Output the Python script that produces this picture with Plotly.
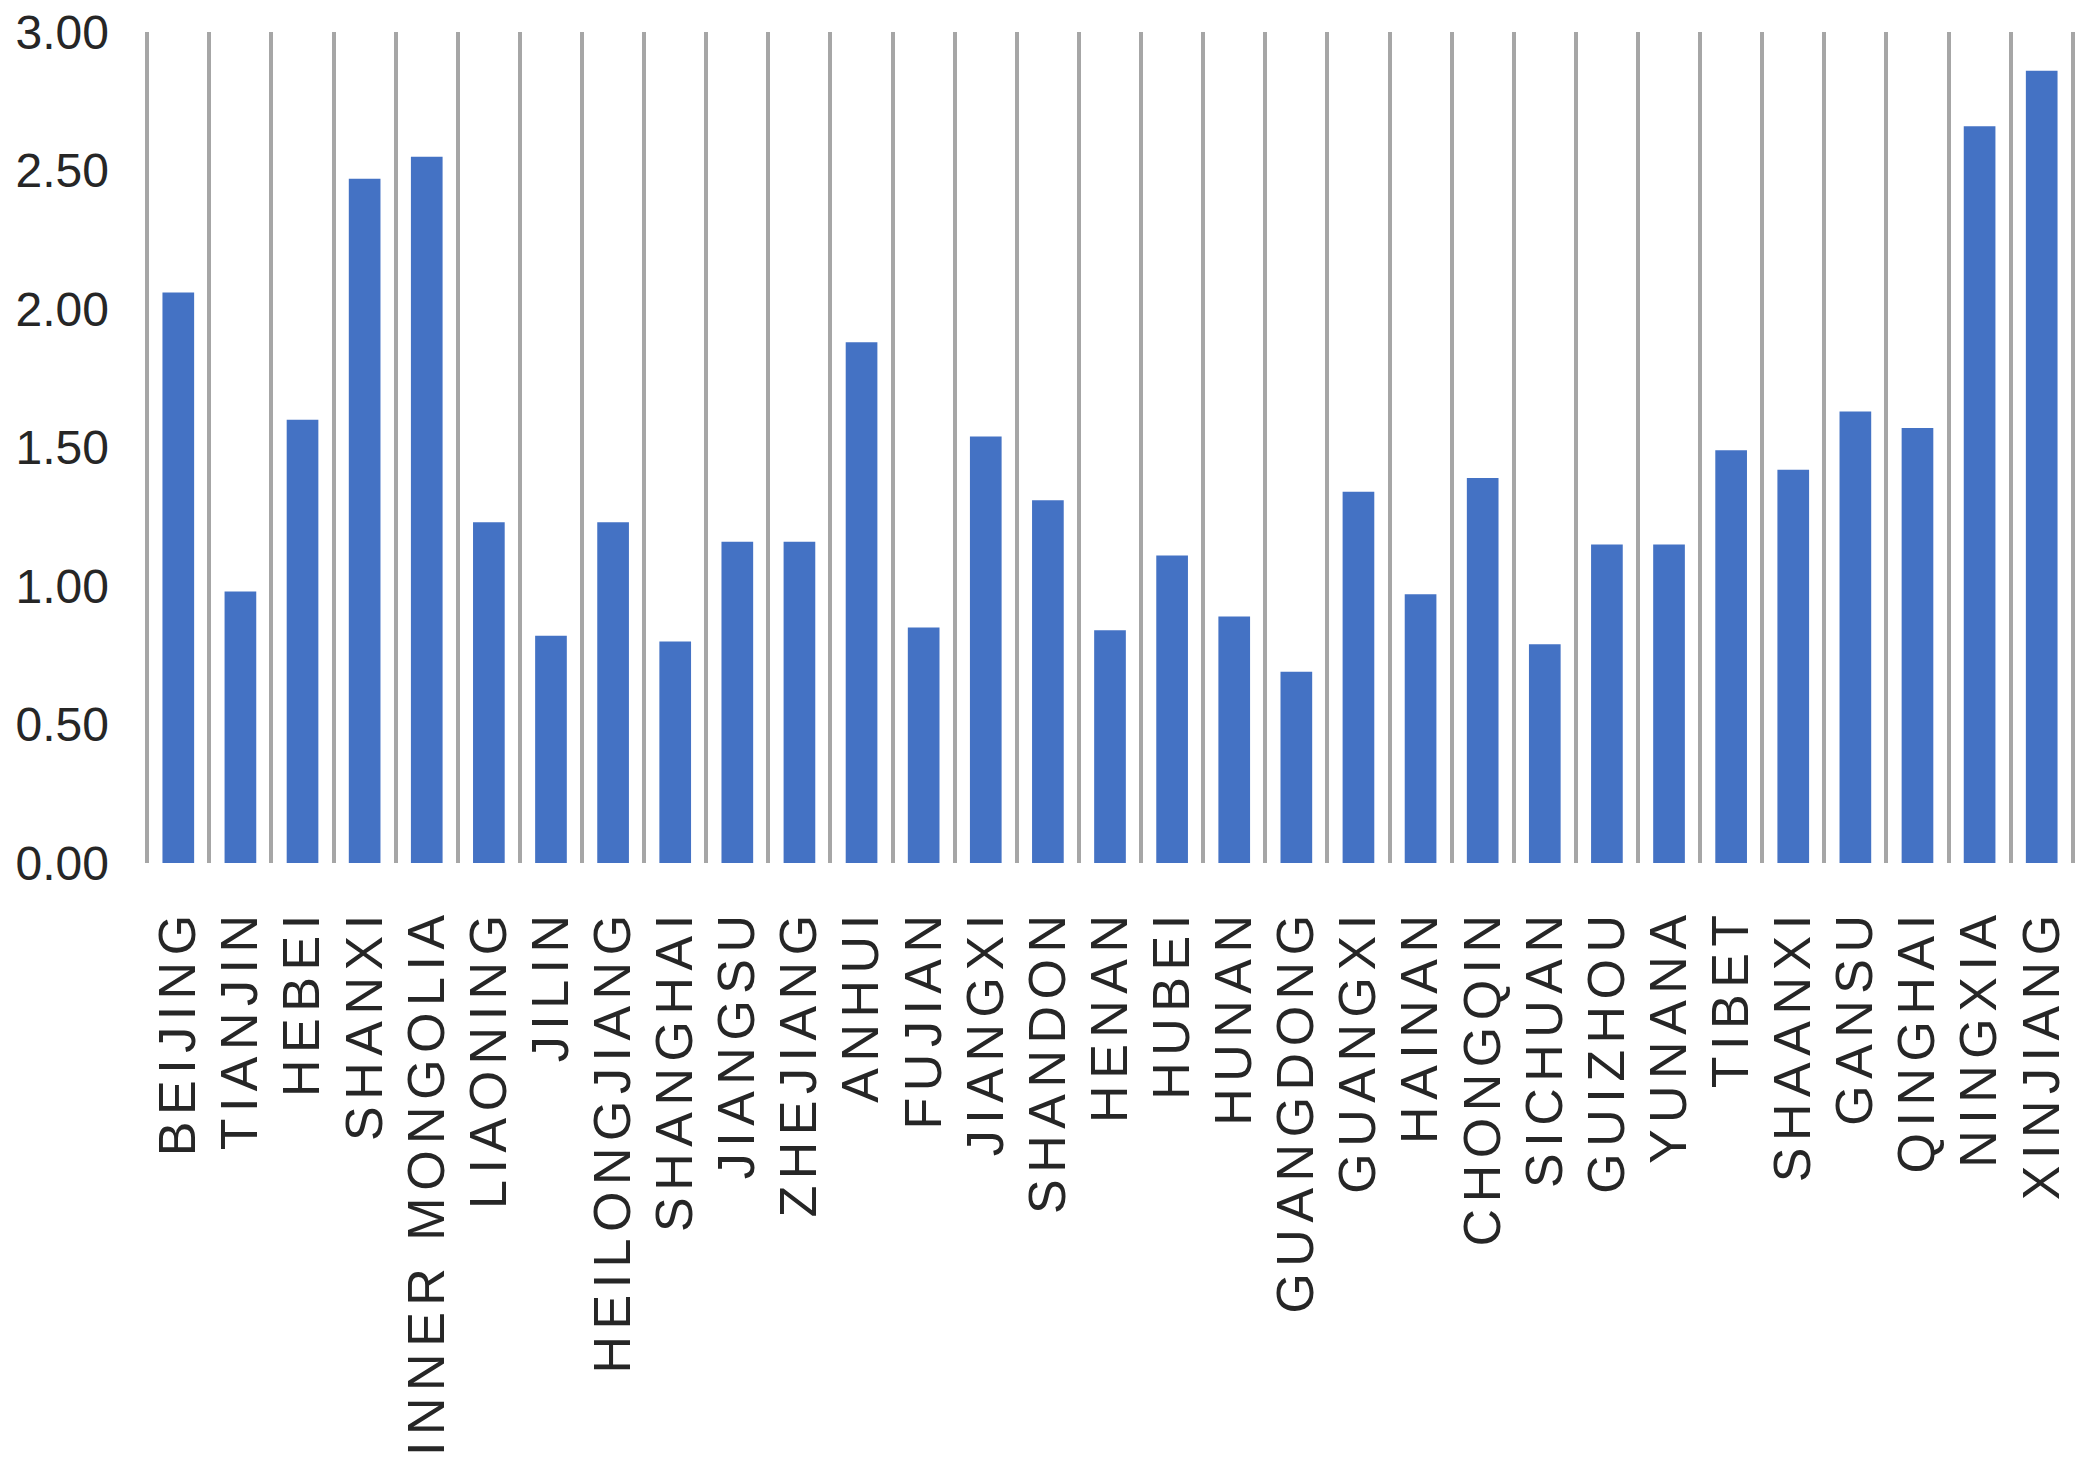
import plotly.graph_objects as go

provinces = ["BEIJING", "TIANJIN", "HEBEI", "SHANXI", "INNER MONGOLIA", "LIAONING", "JILIN",
             "HEILONGJIANG", "SHANGHAI", "JIANGSU", "ZHEJIANG", "ANHUI", "FUJIAN", "JIANGXI",
             "SHANDON", "HENAN", "HUBEI", "HUNAN", "GUANGDONG", "GUANGXI", "HAINAN", "CHONGQIN",
             "SICHUAN", "GUIZHOU", "YUNANA", "TIBET", "SHAANXI", "GANSU", "QINGHAI", "NINGXIA",
             "XINJIANG"]
values = [2.06, 0.98, 1.60, 2.47, 2.55, 1.23, 0.82,
          1.23, 0.80, 1.16, 1.16, 1.88, 0.85, 1.54,
          1.31, 0.84, 1.11, 0.89, 0.69, 1.34, 0.97, 1.39,
          0.79, 1.15, 1.15, 1.49, 1.42, 1.63, 1.57, 2.66,
          2.86]
y_ticks = [0, 0.5, 1.0, 1.5, 2.0, 2.5, 3.0]

fig = go.Figure(go.Bar(x=provinces, y=values, marker_color="#4472C4",
                       marker_line_width=0))

fig.update_layout(
    width=2100, height=1483,
    margin=dict(l=146, r=26, t=32, b=620),
    plot_bgcolor="white", paper_bgcolor="white",
    bargap=0.49, showlegend=False,
    font=dict(family="Liberation Sans, Arial, sans-serif", color="#262626"),
)
fig.update_xaxes(
    range=[-0.52, len(provinces) - 0.48], automargin=False,
    tickmode="linear", tick0=0, dtick=1,
    tickangle=-90, tickfont=dict(size=52),
    showgrid=True, gridcolor="#a6a6a6", gridwidth=3.5,
    tickson="boundaries", ticks="", showline=False, zeroline=False,
    ticklabelstandoff=34, ticklabeloverflow="allow",
)
fig.update_yaxes(
    range=[0, 3], tickvals=y_ticks, tickformat=".2f", automargin=False,
    tickfont=dict(size=48), showgrid=False, zeroline=False, showline=False,
    ticks="", ticklabelstandoff=36, ticklabeloverflow="allow",
)

# no page margin, and wider letter spacing on category labels as in the original
css = ("document.body.style.margin='0';"
       "var s=document.createElement('style');"
       "s.textContent='.xtick text{letter-spacing:6.5px}';"
       "document.head.appendChild(s);")
fig.write_html("out.html", post_script=css, config={"displayModeBar": False})
